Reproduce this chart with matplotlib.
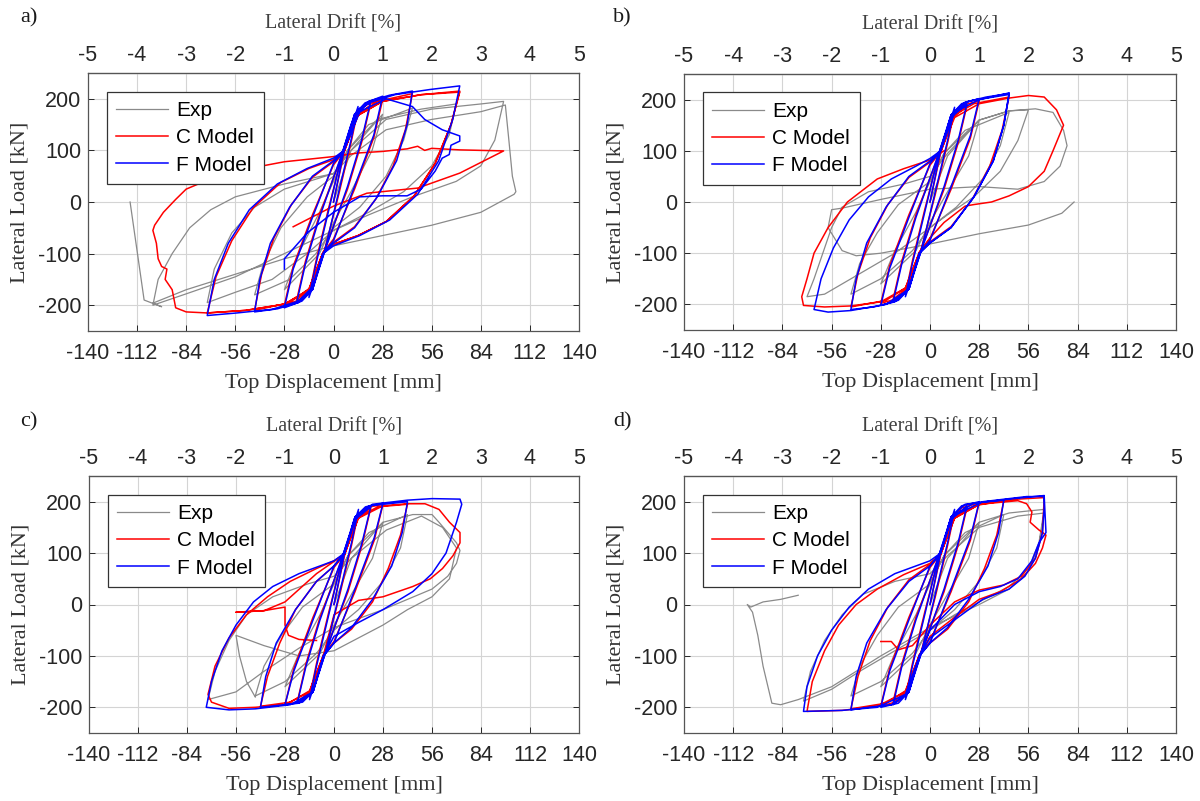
import matplotlib
matplotlib.use('Agg')
import matplotlib.pyplot as plt

plt.rcParams['axes.unicode_minus'] = False

# ---- panel a ----
a_exp_x = [0, 10, 28, 22, 10, 0, -8, -28, -20, -8, 0, 8,
           20, 45, 40, 30, 15, 0, -10, -25, -45, -40, -30, -15, 0, 8,
           25, 50, 70, 66, 56, 40, 20, 0, -15, -35, -56, -72, -68, -58, -45, -28, 0, 10,
           30, 56, 84, 97, 92, 84, 70, 45, 20, 0, -28, -56, -84, -103, -100, -92, -82, -70, -56, -28, 0, 10,
           30, 56, 84, 98, 100, 102, 104, 103, 84, 56, 28, 0, -28, -56, -84, -103, -98, -108, -116]
a_exp_y = [0, 100, 170, 100, 20, -40, -100, -170, -100, -20, 40, 100,
           150, 182, 120, 50, -10, -50, -100, -150, -180, -120, -50, 10, 50, 100,
           160, 180, 190, 130, 70, 20, -20, -55, -100, -150, -175, -195, -130, -60, -10, 25, 55, 100,
           160, 180, 190, 195, 120, 70, 40, 10, -25, -55, -100, -145, -178, -200, -150, -100, -50, -15, 10, 35, 55, 90,
           140, 160, 175, 188, 120, 50, 20, 15, -20, -45, -65, -85, -110, -140, -170, -196, -203, -190, 0]

a_c_x = [0, 6, 14, 10, 3, -5, -14, -10, -3, 5,
         12, 21, 16, 8, -5, -12, -21, -16, -8, 5,
         12, 18, 28, 23, 12, 0, -6, -12, -18, -28, -23, -12, 0, 6,
         14, 25, 45, 41, 34, 24, 12, 0, -6, -14, -25, -45, -41, -34, -24, -12, 0, 6,
         14, 28, 50, 72, 67, 58, 46, 30, 14, 0, -6, -14, -28, -50, -72, -67, -58, -46, -30, -14, 0, 6,
         14, 28, 50, 72, 67, 58, 46, 30, 14, 0, -6, -14, -28, -50, -72, -84, -90, -92, -96, -95, -98, -100,
         -101, -103, -102, -97, -90, -84, -70, -56, -28, 0, 14, 28, 42, 48, 52, 56, 72, 97, 72, 48, 19, 0, -23]
a_c_y = [0, 95, 180, 115, 15, -92, -180, -115, -15, 92,
         162, 188, 115, 25, -92, -165, -190, -115, -25, 92,
         165, 188, 198, 125, 25, -72, -98, -165, -188, -200, -125, -25, 72, 98,
         170, 195, 210, 140, 70, 5, -48, -78, -98, -168, -195, -210, -140, -70, -5, 48, 78, 98,
         168, 195, 208, 215, 150, 75, 12, -38, -65, -82, -98, -170, -198, -210, -215, -145, -75, -12, 38, 65, 82, 98,
         168, 195, 208, 213, 150, 75, 12, -38, -65, -82, -98, -170, -198, -210, -215, -213, -205, -170, -150, -130, -125, -110,
         -80, -55, -45, -20, 5, 25, 45, 60, 78, 88, 95, 98, 103, 108, 100, 104, 101, 99, 56, 27, 17, -8, -48]

a_f_x = [0, 6, 14, 10, 3, -5, -14, -10, -3, 5,
         10, 14, 21, 16, 8, -5, -12, -21, -16, -8, 5,
         12, 18, 28, 23, 12, 0, -6, -12, -18, -28, -23, -12, 0, 6,
         12, 20, 32, 45, 42, 36, 25, 12, 0, -6, -12, -20, -32, -45, -42, -36, -25, -12, 0, 6,
         12, 20, 35, 55, 72, 68, 60, 48, 32, 15, 0, -6, -12, -20, -35, -55, -72, -68, -60, -48, -32, -15, 0, 6,
         15, 30, 45, 52, 62, 72, 72, 67, 66, 62, 58, 50, 42, 28, 15, 0, -15, -28, -28]
a_f_y = [0, 100, 185, 120, 20, -95, -185, -120, -20, 95,
         150, 180, 192, 120, 30, -95, -170, -195, -120, -30, 95,
         170, 192, 205, 130, 30, -75, -100, -170, -192, -205, -130, -30, 75, 100,
         170, 195, 207, 215, 150, 80, 10, -50, -80, -100, -170, -195, -207, -213, -150, -80, -10, 50, 80, 100,
         165, 192, 208, 218, 225, 160, 80, 15, -35, -65, -85, -100, -165, -192, -208, -215, -220, -150, -80, -15, 35, 65, 85, 100,
         175, 200, 185, 160, 140, 128, 118, 110, 92, 85, 60, 25, 12, 12, 10, -20, -60, -110, -130]

# ---- panel b ----
b_exp_x = [0, 10, 28, 22, 10, 0, -8, -28, -20, -8, 0, 8,
           20, 45, 40, 30, 15, 0, -10, -28, -45, -40, -30, -18, 0, 8,
           28, 45, 56, 50, 40, 25, 10, 0, -20, -45, -60, -70, -66, -60, -56, -50, -35, -15, 0, 10,
           28, 45, 60, 70, 76, 78, 74, 65, 50, 28, 0, -28, -50, -56, -58, -50, -42, -28, 0, 28, 56, 75, 82]
b_exp_y = [0, 90, 160, 90, 20, -40, -95, -160, -95, -20, 40, 95,
           140, 175, 110, 45, -10, -50, -95, -150, -180, -120, -60, -5, 40, 95,
           160, 178, 180, 120, 60, 10, -25, -50, -100, -150, -180, -185, -150, -90, -50, -10, 20, 35, 50, 95,
           160, 178, 182, 175, 140, 110, 70, 40, 25, 30, 25, 5, -12, -15, -50, -95, -105, -100, -82, -62, -45, -22, 0]

b_c_x = [0, 6, 14, 10, 3, -5, -14, -10, -3, 5,
         12, 21, 16, 8, -5, -12, -21, -16, -8, 5,
         12, 18, 28, 23, 12, 0, -6, -12, -18, -28, -23, -12, 0, 6,
         14, 25, 45, 41, 34, 24, 12, 0, -6, -14, -25, -45, -41, -34, -24, -12, 0, 6,
         14, 28, 45, 56, 65, 72, 76, 73, 70, 65, 56, 45, 35, 25, 20, 8, 0, -6, -14, -28, -45, -60, -72,
         -73, -70, -66, -58, -47, -30, -15, 0, 8]
b_c_y = [0, 95, 180, 115, 15, -92, -180, -115, -15, 92,
         162, 188, 115, 25, -92, -165, -190, -115, -25, 92,
         165, 188, 198, 125, 25, -72, -98, -165, -188, -198, -125, -25, 72, 98,
         170, 192, 205, 140, 70, 5, -48, -78, -98, -168, -192, -205, -140, -70, -5, 48, 78, 98,
         165, 192, 203, 208, 205, 180, 150, 125, 100, 60, 30, 12, 0, -5, -8, -40, -70, -98, -168, -195, -203, -205, -202,
         -185, -150, -100, -50, 0, 45, 65, 82, 100]

b_f_x = [0, 6, 14, 10, 3, -5, -14, -10, -3, 5,
         12, 21, 16, 8, -5, -12, -21, -16, -8, 5,
         12, 18, 28, 23, 12, 0, -6, -12, -18, -28, -23, -12, 0, 6,
         12, 20, 32, 45, 42, 36, 25, 12, 0, -6, -12, -20, -32, -45, -42, -36, -25, -12, 0, 6,
         12, 22, 45, 42, 36, 25, 12, 0, -6, -12, -25, -45, -58, -66, -62, -55, -46, -35, -22, -8, 0, 6,
         14, 28, 45]
b_f_y = [0, 100, 185, 120, 20, -95, -185, -120, -20, 95,
         165, 192, 120, 30, -95, -170, -195, -120, -30, 95,
         170, 192, 202, 130, 30, -75, -100, -170, -192, -202, -130, -30, 75, 100,
         170, 195, 205, 212, 150, 80, 10, -50, -80, -100, -170, -195, -205, -210, -150, -80, -10, 50, 80, 100,
         170, 197, 210, 150, 80, 10, -50, -80, -100, -170, -200, -212, -215, -210, -150, -90, -35, 10, 45, 70, 85, 100,
         175, 200, 213]

# ---- panel c ----
c_exp_x = [0, 10, 28, 22, 10, 0, -8, -28, -20, -8, 0, 8,
           20, 42, 38, 28, 14, 0, -10, -28, -45, -40, -30, -18, 0, 8,
           28, 45, 56, 60, 65, 70, 72, 70, 65, 56, 42, 28, 0, -20, -40, -56, -72, -68, -60, -50, -35, -15, 0, 10,
           30, 50, 62, 70, 66, 56, 42, 28, 14, 0, -20, -40, -56, -54, -50, -45]
c_exp_y = [0, 90, 160, 90, 20, -40, -95, -160, -95, -20, 40, 95,
           140, 175, 110, 45, -10, -50, -95, -150, -178, -120, -60, -5, 40, 95,
           160, 175, 175, 160, 140, 120, 105, 80, 55, 30, 10, -10, -45, -85, -130, -170, -185, -130, -70, -20, 15, 40, 55, 90,
           145, 172, 150, 110, 50, 15, -10, -40, -65, -90, -100, -80, -60, -100, -150, -180]

c_c_x = [0, 6, 14, 10, 3, -5, -14, -10, -3, 5,
         12, 21, 16, 8, -5, -12, -21, -16, -8, 5,
         12, 18, 28, 23, 12, 0, -6, -12, -18, -28, -23, -12, 0, 6,
         14, 25, 42, 38, 31, 22, 10, 0, -6, -14, -25, -42, -38, -31, -22, -10, 0, 6,
         14, 28, 42, 52, 60, 66, 72, 72, 68, 62, 55, 45, 28, 14, 0, -6, -14, -28, -45, -60, -70, -72,
         -68, -60, -50, -38, -25, -10, 0, 6, -10, -28, -40, -56, -40, -28, -28, -26, -20, -10]
c_c_y = [0, 95, 180, 115, 15, -92, -180, -115, -15, 92,
         162, 188, 115, 25, -92, -165, -190, -115, -25, 92,
         165, 188, 195, 125, 25, -72, -98, -165, -188, -195, -125, -25, 72, 98,
         170, 190, 195, 135, 70, 5, -48, -75, -98, -168, -190, -198, -140, -75, -10, 45, 75, 98,
         168, 192, 196, 196, 185, 160, 140, 120, 95, 70, 50, 35, 15, 8, -20, -98, -170, -195, -200, -202, -190, -175,
         -120, -65, -20, 15, 45, 70, 85, 98, 60, 5, -12, -15, -12, -5, -40, -60, -68, -70]

c_f_x = [0, 6, 14, 10, 3, -5, -14, -10, -3, 5,
         12, 21, 16, 8, -5, -12, -21, -16, -8, 5,
         12, 18, 28, 23, 12, 0, -6, -12, -18, -28, -23, -12, 0, 6,
         12, 20, 42, 39, 33, 22, 10, 0, -6, -12, -20, -42, -39, -33, -22, -10, 0, 6,
         12, 22, 42, 56, 72, 73, 70, 64, 56, 45, 28, 14, 0, -6, -12, -25, -45, -60, -73,
         -70, -64, -56, -46, -35, -20, 0, 6]
c_f_y = [0, 100, 185, 120, 20, -95, -185, -120, -20, 95,
         165, 190, 120, 30, -95, -170, -192, -120, -30, 95,
         170, 190, 197, 130, 30, -75, -100, -170, -190, -195, -130, -30, 75, 100,
         170, 192, 200, 140, 75, 10, -45, -75, -100, -170, -192, -200, -140, -75, -10, 45, 75, 100,
         170, 195, 203, 206, 205, 195, 160, 100, 60, 25, -10, -35, -62, -100, -170, -195, -203, -205, -200,
         -150, -90, -40, 5, 35, 60, 85, 100]

# ---- panel d ----
d_exp_x = [0, 10, 28, 22, 10, 0, -8, -28, -20, -8, 0, 8,
           20, 42, 38, 28, 14, 0, -10, -28, -45, -40, -30, -18, 0, 8,
           28, 45, 56, 65, 62, 56, 45, 28, 14, 0, -20, -40, -56, -72, -68, -60, -50, -38, -20, 0, 10,
           28, 50, 65, 62, 56, 45, 28, 0, -28, -56, -75, -85, -90, -95, -98, -101, -104, -102, -95, -85, -75]
d_exp_y = [0, 90, 160, 90, 20, -40, -95, -160, -95, -20, 40, 95,
           140, 175, 110, 45, -10, -50, -95, -150, -178, -120, -60, -5, 40, 95,
           160, 178, 182, 185, 120, 70, 35, 5, -20, -50, -90, -130, -165, -188, -130, -70, -20, 20, 45, 60, 95,
           150, 172, 178, 115, 65, 30, 0, -45, -100, -160, -185, -195, -192, -120, -60, -15, 0, -5, 5, 10, 18]

d_c_x = [0, 6, 14, 10, 3, -5, -14, -10, -3, 5,
         12, 21, 16, 8, -5, -12, -21, -16, -8, 5,
         12, 18, 28, 23, 12, 0, -6, -12, -18, -28, -23, -12, 0, 6,
         14, 25, 42, 38, 31, 22, 10, 0, -6, -14, -25, -45, -41, -34, -24, -12, 0, 6,
         14, 28, 50, 55, 58, 57, 62, 66, 64, 60, 52, 40, 28, 14, 0, -6, -14, -30, -50, -70,
         -67, -60, -52, -42, -30, -15, 0, 6,
         14, 30, 50, 65, 64, 60, 52, 42, 28, 14, 0, -10, -18, -20, -22, -28]
d_c_y = [0, 95, 180, 115, 15, -92, -180, -115, -15, 92,
         162, 188, 115, 25, -92, -165, -190, -115, -25, 92,
         165, 188, 198, 125, 25, -72, -98, -165, -188, -198, -125, -25, 72, 98,
         170, 192, 202, 135, 70, 5, -48, -75, -98, -168, -192, -203, -140, -70, -5, 48, 78, 98,
         168, 195, 202, 196, 180, 160, 145, 135, 110, 80, 50, 25, 10, -25, -62, -98, -170, -198, -206, -208,
         -150, -90, -40, 0, 30, 58, 80, 98,
         168, 198, 205, 208, 140, 90, 55, 38, 28, 5, -40, -80, -88, -80, -72, -72]

d_f_x = [0, 6, 14, 10, 3, -5, -14, -10, -3, 5,
         12, 21, 16, 8, -5, -12, -21, -16, -8, 5,
         12, 18, 28, 23, 12, 0, -6, -12, -18, -28, -23, -12, 0, 6,
         12, 20, 32, 42, 39, 33, 22, 10, 0, -6, -12, -22, -35, -45, -42, -36, -25, -12, 0, 6,
         12, 25, 45, 65, 65, 64, 60, 54, 45, 30, 14, 0, -6, -14, -30, -50, -72,
         -70, -64, -56, -46, -35, -20, 0, 6,
         12, 30, 55, 65, 66, 62, 58, 50, 40, 28, 14, 0, -6]
d_f_y = [0, 100, 185, 120, 20, -95, -185, -120, -20, 95,
         165, 192, 120, 30, -95, -170, -195, -120, -30, 95,
         170, 192, 200, 130, 30, -75, -100, -170, -192, -200, -130, -30, 75, 100,
         170, 195, 200, 203, 140, 75, 10, -45, -75, -100, -170, -195, -200, -205, -140, -75, -10, 45, 75, 100,
         170, 197, 205, 212, 190, 140, 90, 55, 30, 10, -30, -65, -100, -175, -200, -206, -208,
         -160, -100, -50, -5, 30, 60, 85, 100,
         170, 200, 210, 210, 140, 120, 85, 50, 35, 25, 0, -50, -100]

panels = [
    ('a)', a_exp_x, a_exp_y, a_c_x, a_c_y, a_f_x, a_f_y),
    ('b)', b_exp_x, b_exp_y, b_c_x, b_c_y, b_f_x, b_f_y),
    ('c)', c_exp_x, c_exp_y, c_c_x, c_c_y, c_f_x, c_f_y),
    ('d)', d_exp_x, d_exp_y, d_c_x, d_c_y, d_f_x, d_f_y),
]

# axes boxes in pixels (left, top, right, bottom) and panel tag position
boxes = [(88, 73, 579, 331), (684, 74, 1176, 330),
         (89, 476, 579, 733), (684, 476, 1176, 733)]
tag_pos = [(20, 18), (613, 18), (20, 422), (613, 422)]

disp_ticks = [-140, -112, -84, -56, -28, 0, 28, 56, 84, 112, 140]
drift_ticks = [-5, -4, -3, -2, -1, 0, 1, 2, 3, 4, 5]
load_ticks = [-200, -100, 0, 100, 200]

W, H = 1200, 801
fig = plt.figure(figsize=(12, 8.01), dpi=100)

serif = ['Liberation Serif', 'DejaVu Serif']
sans = ['Liberation Sans', 'DejaVu Sans']
tick_col = '#262626'
tfs = 15.5

for (tag, ex, ey, cx, cy, fx, fy), (l, t, r, b), (tx, ty) in zip(panels, boxes, tag_pos):
    ax = fig.add_axes([l / W, 1 - b / H, (r - l) / W, (b - t) / H])
    ax.plot(ex, ey, color='#8a8a8a', lw=0.9, label='Exp')
    ax.plot(cx, cy, color='#ff0000', lw=1.1, label='C Model')
    ax.plot(fx, fy, color='#0000ff', lw=1.1, label='F Model')
    ax.set_xlim(-140, 140)
    ax.set_ylim(-250, 250)
    ax.set_xticks(disp_ticks)
    ax.set_yticks(load_ticks)
    ax.grid(True, color='#d4d4d4', lw=0.8)
    ax.set_axisbelow(True)
    ax.tick_params(direction='in', length=4, width=0.7, colors=tick_col,
                   labelsize=tfs, right=True, labelcolor=tick_col, pad=5)
    ax.tick_params(axis='x', pad=8.5)
    for lab in ax.get_xticklabels() + ax.get_yticklabels():
        lab.set_family(sans)
    for s in ax.spines.values():
        s.set_color('#555555')
        s.set_linewidth(0.9)
    ax.set_xlabel('Top Displacement [mm]', family=serif, fontsize=16,
                  color='#333333', labelpad=7)
    ax.set_ylabel('Lateral Load [kN]', family=serif, fontsize=16,
                  color='#333333', labelpad=6)

    top = ax.secondary_xaxis('top', functions=(lambda v: v / 28.0, lambda v: v * 28.0))
    top.set_xticks(drift_ticks)
    top.tick_params(direction='in', length=4, width=0.7, colors=tick_col,
                    labelsize=tfs, labelcolor=tick_col, pad=5)
    for lab in top.get_xticklabels():
        lab.set_family(sans)
    top.set_xlabel('Lateral Drift [%]', family=serif, fontsize=14.5,
                   color='#404040', labelpad=12)

    leg = ax.legend(loc='upper left', bbox_to_anchor=(0.038, 0.928),
                    prop={'family': sans, 'size': 15}, frameon=True,
                    fancybox=False, framealpha=1, edgecolor='#333333',
                    handlelength=2.5, borderpad=0.45, labelspacing=0.4,
                    handletextpad=0.4, borderaxespad=0)
    leg.get_frame().set_linewidth(0.9)

    fig.text(tx / W, 1 - ty / H, tag, family=serif, fontsize=16,
             color='#1a1a1a', va='center')

fig.savefig('out.png', dpi=100)
